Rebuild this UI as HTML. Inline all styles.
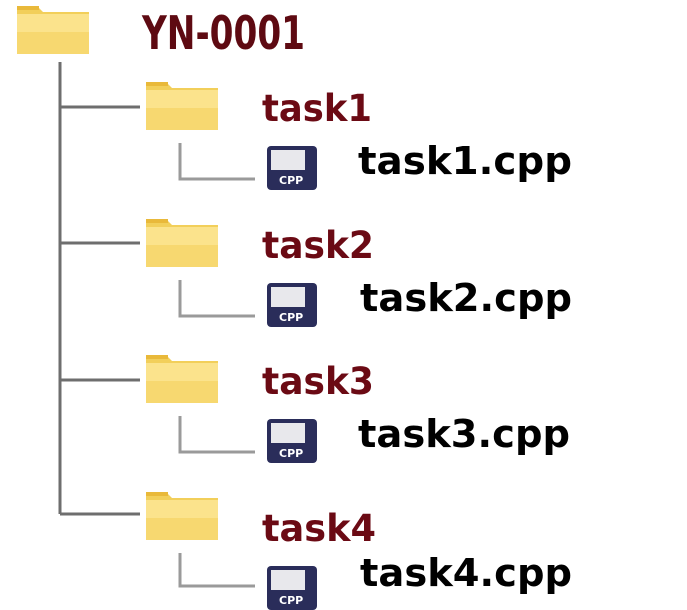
<!DOCTYPE html>
<html><head><meta charset="utf-8"><style>
html,body{margin:0;padding:0;background:#fff;}
svg{display:block;}
text{font-family:"DejaVu Sans","Liberation Sans",sans-serif;font-weight:bold;}
</style></head><body>
<svg width="687" height="610" viewBox="0 0 687 610" xmlns="http://www.w3.org/2000/svg">
<defs>
<g id="folder">
<path d="M0 2 h22 l4 4 h46 v42 h-72 z" fill="#f2cf5a"/>
<rect x="0" y="8" width="72" height="40" fill="#fbe38c"/>
<rect x="0" y="26" width="72" height="22" fill="#f7d870"/>
<rect x="0" y="0" width="22" height="4" fill="#e9b93a"/>
</g>
<g id="cpp">
<rect x="0" y="0" width="50" height="44" rx="4" fill="#2a2d5a"/>
<rect x="4" y="4" width="34" height="20" fill="#e8e8ec"/>
<text x="12" y="38" font-size="11" fill="#fff">CPP</text>
</g>
</defs>
<path d="M60 62 V514" stroke="#6e6e6e" stroke-width="3" fill="none"/>
<path d="M60 107 H140 M60 243 H140 M60 380 H140 M60 514 H140" stroke="#6e6e6e" stroke-width="3" fill="none"/>
<use href="#folder" x="17" y="6"/>
<text x="142" y="49" font-size="46" fill="#5e0a12" textLength="163" lengthAdjust="spacingAndGlyphs">YN-0001</text>
<g>
<use href="#folder" x="146" y="82"/>
<text x="262" y="121" font-size="37" fill="#6b0a14" textLength="110" lengthAdjust="spacingAndGlyphs">task1</text>
<path d="M180 143 V179 H255" stroke="#9a9a9a" stroke-width="3" fill="none"/>
<use href="#cpp" x="267" y="146"/>
<text x="358" y="174" font-size="38" fill="#000" textLength="214" lengthAdjust="spacingAndGlyphs">task1.cpp</text>
</g>
<g transform="translate(0,137)">
<use href="#folder" x="146" y="82"/>
<text x="262" y="121" font-size="37" fill="#6b0a14" textLength="112" lengthAdjust="spacingAndGlyphs">task2</text>
<path d="M180 143 V179 H255" stroke="#9a9a9a" stroke-width="3" fill="none"/>
<use href="#cpp" x="267" y="146"/>
<text x="360" y="174" font-size="38" fill="#000" textLength="212" lengthAdjust="spacingAndGlyphs">task2.cpp</text>
</g>
<g transform="translate(0,273)">
<use href="#folder" x="146" y="82"/>
<text x="262" y="121" font-size="37" fill="#6b0a14" textLength="112" lengthAdjust="spacingAndGlyphs">task3</text>
<path d="M180 143 V179 H255" stroke="#9a9a9a" stroke-width="3" fill="none"/>
<use href="#cpp" x="267" y="146"/>
<text x="358" y="174" font-size="38" fill="#000" textLength="212" lengthAdjust="spacingAndGlyphs">task3.cpp</text>
</g>
<g transform="translate(0,410)">
<use href="#folder" x="146" y="82"/>
<text x="262" y="131" font-size="37" fill="#6b0a14" textLength="114" lengthAdjust="spacingAndGlyphs">task4</text>
<path d="M180 143 V176 H255" stroke="#9a9a9a" stroke-width="3" fill="none"/>
<use href="#cpp" x="267" y="156"/>
<text x="360" y="176" font-size="38" fill="#000" textLength="212" lengthAdjust="spacingAndGlyphs">task4.cpp</text>
</g>
</svg>
</body></html>
